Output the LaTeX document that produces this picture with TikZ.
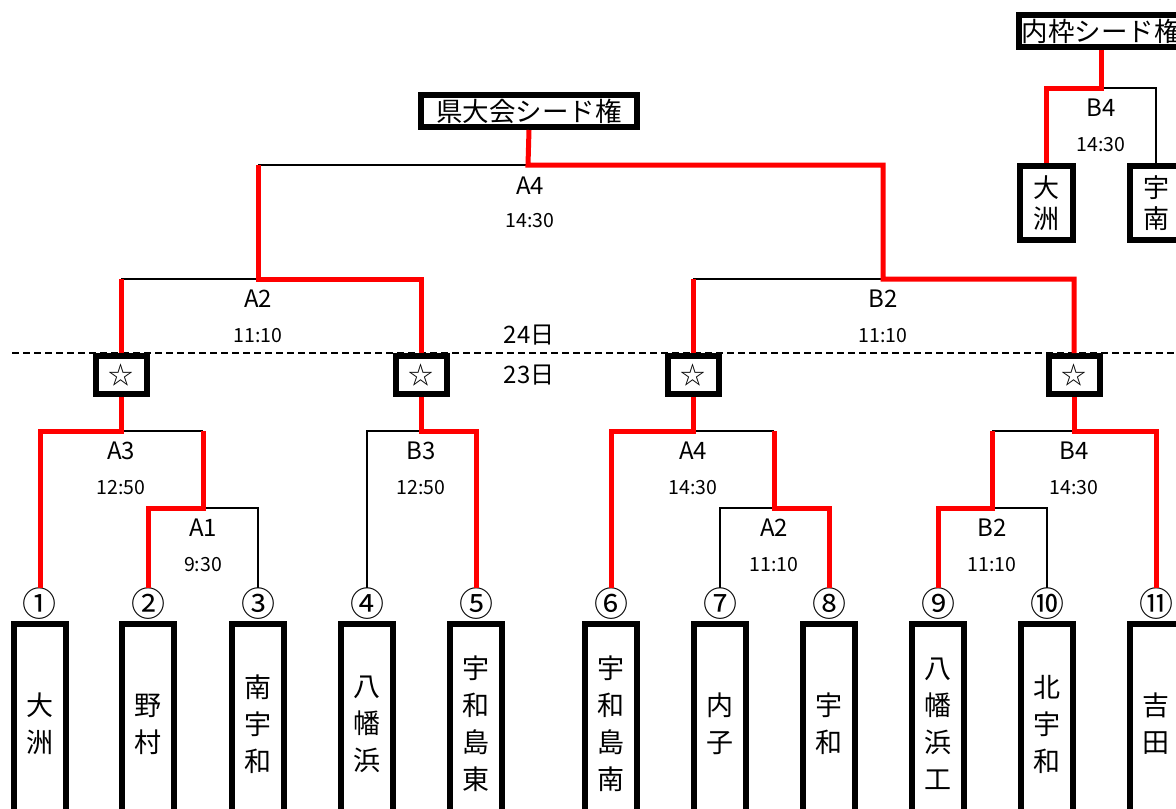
\documentclass[tikz,border=0pt]{standalone}
\usepackage{fontspec}
\setmainfont{Noto Sans CJK JP}
\usetikzlibrary{calc}

\tikzset{
 win/.style={red,line width=5pt},
 lose/.style={black,line width=2.5pt},
 team/.style={draw,fill=white,line width=6pt,minimum width=52pt,minimum height=200pt,anchor=north,align=center,inner sep=0pt,font=\fontsize{27}{37}\selectfont},
 smallteam/.style={draw,fill=white,line width=6pt,minimum width=53pt,minimum height=74pt,anchor=north,align=center,inner sep=0pt,font=\fontsize{26}{31}\selectfont},
 starbox/.style={draw,fill=white,line width=6pt,minimum width=51pt,minimum height=38pt,inner sep=0pt,font=\fontsize{25}{25}\selectfont},
 seedbox/.style={draw,fill=white,line width=6pt,minimum height=32pt,inner sep=3pt,font=\fontsize{26.5}{26.5}\selectfont},
 num/.style={inner sep=0pt,font=\fontsize{34}{34}\selectfont},
 mname/.style={font=\fontsize{24}{24}\selectfont},
 mtime/.style={font=\fontsize{19.5}{19.5}\selectfont},
}

\begin{document}
\begin{tikzpicture}[x=1pt,y=-1pt]
 \clip (0,0) rectangle (1176,809);
 \fill[white] (0,0) rectangle (1176,809);
 \draw[line width=2pt,dash pattern=on 7pt off 4pt] (12,353) -- (1176,353);
 % teams
 \foreach \i/\x/\c/\t in {1/40/①/{大\\洲},2/148/②/{野\\村},3/258/③/{南\\宇\\和},4/367/④/{八\\幡\\浜},5/476/⑤/{宇\\和\\島\\東},
   6/611/⑥/{宇\\和\\島\\南},7/720/⑦/{内\\子},8/829/⑧/{宇\\和},9/938/⑨/{八\\幡\\浜\\工},10/1047/⑩/{北\\宇\\和},11/1156/⑪/{吉\\田}}{
  \node[num] (n\i) at (\x,604) {\c};
  \node[team] (t\i) at (\x,621) {\t};
 }
 \foreach \i/\x in {1/121,2/421,3/693,4/1074}{\node[starbox] (s\i) at (\x,375) {☆};}
 \node[seedbox,minimum width=216pt] (ken) at (529,111) {県大会シード権};
 \node[seedbox,minimum width=164pt] (nai) at (1101,31) {内枠シード権};
 \node[smallteam] (o1) at (1046,163) {大\\洲};
 \node[smallteam] (o2) at (1156,163) {宇\\南};
 \node[mname] (d24) at (529,335) {24日};
 \node[mname] (d23) at (529,375) {23日};
 % junctions
 \coordinate (mA1) at (203,508);
 \coordinate (mA3) at (121,431);
 \coordinate (mB3) at (421,431);
 \coordinate (mA4) at (693,431);
 \coordinate (mA2) at (774,508);
 \coordinate (mB2) at (992,508);
 \coordinate (mB4) at (1074,431);
 \coordinate (sA2) at (258,279);
 \coordinate (sB2) at (883,279);
 \coordinate (fA4) at (528,165);
 \coordinate (fB4) at (1101,88);
 % match labels
 \foreach \m/\n/\t in {mA1/A1/9:30,mA3/A3/12:50,mB3/B3/12:50,mA4/A4/14:30,mA2/A2/11:10,mB2/B2/11:10,mB4/B4/14:30,sA2/A2/11:10,sB2/B2/11:10,fB4/B4/14:30}{
  \node[mname] (l\m) at ($(\m)+(0,20)$) {\n};
  \node[mtime] (k\m) at ($(\m)+(0,57)$) {\t};
 }
 \node[mname] (lfA4) at ($(fA4)+(2,21)$) {A4};
 \node[mtime] (kfA4) at ($(fA4)+(2,56)$) {14:30};
 % losers
 \draw[lose] (mA1) -| (n3.north);
 \draw[lose] (mA3) -- (mA3 -| mA1);
 \draw[lose] (n4.north) |- (mB3);
 \draw[lose] (mA4) -- (mA4 -| mA2);
 \draw[lose] (n7.north) |- (mA2);
 \draw[lose] (mB2) -| (n10.north);
 \draw[lose] (mB4) -- (mB4 -| mB2);
 \draw[lose] (s1.north |- sA2) -- (sA2);
 \draw[lose] (s3.north |- sB2) -- (sB2);
 \draw[lose] (sA2 |- fA4) -- (fA4);
 \draw[lose] (fB4) -| (o2.north);
 % winners
 \draw[win] (n1.north) |- (mA3) -- (s1.south);
 \draw[win] (n2.north) |- (mA1) -- (mA3 -| mA1);
 \draw[win] (n5.north) |- (mB3) -- (s2.south);
 \draw[win] (n6.north) |- (mA4) -- (s3.south);
 \draw[win] (n8.north) |- (mA2) -- (mA4 -| mA2);
 \draw[win] (n9.north) |- (mB2) -- (mB4 -| mB2);
 \draw[win] (n11.north) |- (mB4) -- (s4.south);
 \draw[win] (s1.north) -- (s1.north |- sA2);
 \draw[win] (s2.north) |- (sA2) -- (sA2 |- fA4);
 \draw[win] (s3.north) -- (s3.north |- sB2);
 \draw[win] (s4.north) |- (sB2) -- (sB2 |- fA4) -- (fA4) -- (ken.south);
 \draw[win] (o1.north) |- (fB4) -- (nai.south);
\end{tikzpicture}
\end{document}
